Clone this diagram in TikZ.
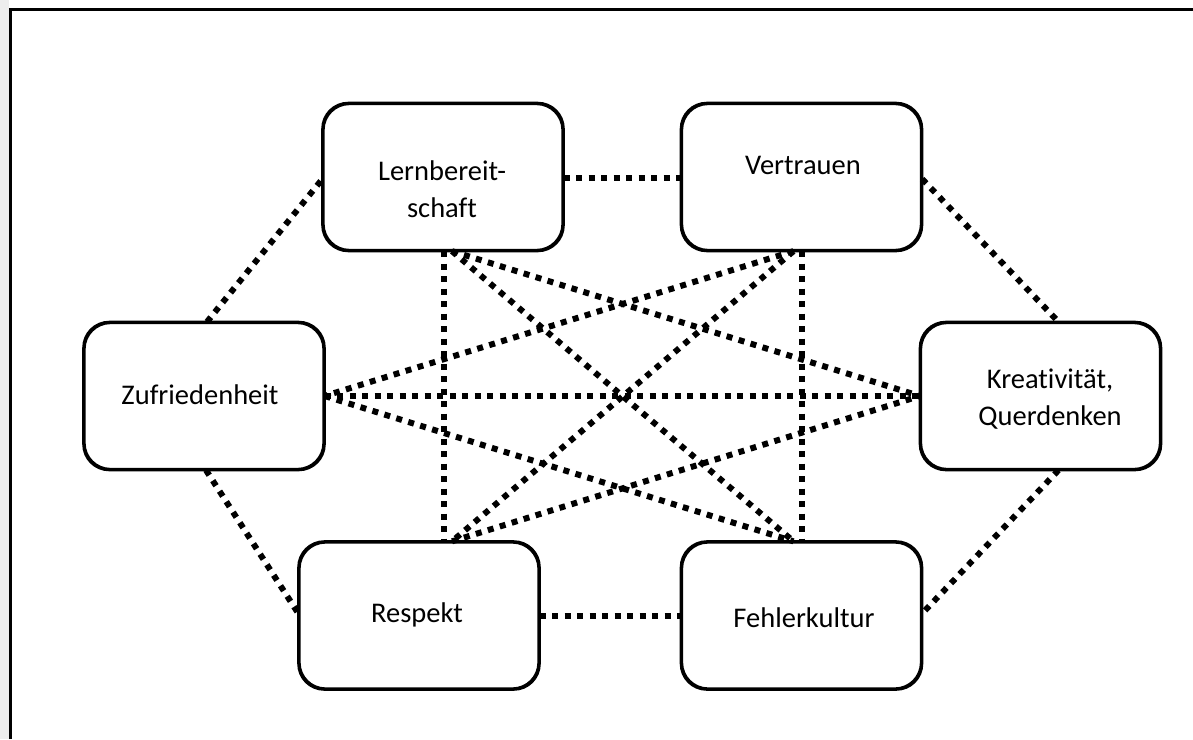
\documentclass[tikz,border=0pt]{standalone}
\usepackage{fontspec}
\setmainfont{Carlito}[Ligatures=NoCommon]
\usetikzlibrary{calc}
\begin{document}
\begin{tikzpicture}[x=1pt,y=-1pt,
  box/.style={draw=black,line width=2.3pt,rounded corners=26pt,fill=white,
    minimum width=239pt,minimum height=146pt,inner sep=0pt},
  boxline/.style={line width=2.3pt,rounded corners=26pt},
  lbl/.style={font=\fontsize{28.5pt}{37pt}\selectfont,align=center,inner sep=0pt},
  dots/.style={line width=6pt,dash pattern=on 6pt off 6.5pt}]
\useasboundingbox (0,0) rectangle (1193,739);
\fill[black!7] (0,0) rectangle (9,739);
\fill[white] (10,10) rectangle (1193,739);
\draw[line width=3pt] (10,739) -- (10,9) -- (1193,9);
% boxes
\node[box] (L) at (443,177) {};
\node[box] (V) at (801.5,177) {};
\node[box] (Z) at (204,396) {};
\node[box] (K) at (1040.5,396) {};
\node[box] (R) at (419,615.5) {};
\node[box] (F) at (801.5,615.5) {};
% contact points
\coordinate (Lb1) at ($(L.south)+(1,0)$);
\coordinate (Lb2) at ($(L.south)+(9,0)$);
\coordinate (Vb1) at ($(V.south)+(0,0)$);
\coordinate (Vb2) at ($(V.south)+(-8,0)$);
\coordinate (Ft2) at ($(F.north)+(-8,0)$);
\coordinate (Rt2) at ($(R.north)+(33,0)$);
% connectors
\draw[dots] (L.east) ++(0,1) coordinate (Le) -- (Le -| V.west);
\draw[dots] (R.east) -- (F.west);
\draw[dots] ($(Z.north)+(3,0)$) -- ($(L.west)+(0,2)$);
\draw[dots] ($(Z.south)+(2,0)$) -- ($(R.west)+(0,-2)$);
\draw[dots] ($(V.east)+(0,2)$) -- ($(K.north)+(18,0)$);
\draw[dots] ($(K.south)+(18,0)$) -- ($(F.east)+(0,-2)$);
\draw[dots] (Lb1) -- (Lb1 |- R.north);
\draw[dots] (Vb1) -- (Vb1 |- F.north);
\draw[dots] (Lb2) -- (Ft2);
\draw[dots] (Vb2) -- (Rt2);
\draw[dots] (Lb2) -- (K.west);
\draw[dots] (Vb2) -- (Z.east);
\draw[dots] (Z.east) -- (K.west);
\draw[dots] (Z.east) -- (Ft2);
\draw[dots] (Rt2) -- (K.west);
% box outlines on top of line ends
\foreach \n in {L,V,Z,K,R,F}{
  \draw[boxline] (\n.north west) rectangle (\n.south east);
}
% labels
\node[lbl] (tL) at (442,189) {Lernbereit-\\schaft};
\node[lbl] (tV) at (803,165) {Vertrauen};
\node[lbl] (tZ) at (200,395) {Zufriedenheit};
\node[lbl] (tK) at (1050,399) {Kreativität,\\Querdenken};
\node[lbl] (tR) at (417,615) {Respekt};
\node[lbl] (tF) at (804,618) {Fehlerkultur};
\end{tikzpicture}
\end{document}
